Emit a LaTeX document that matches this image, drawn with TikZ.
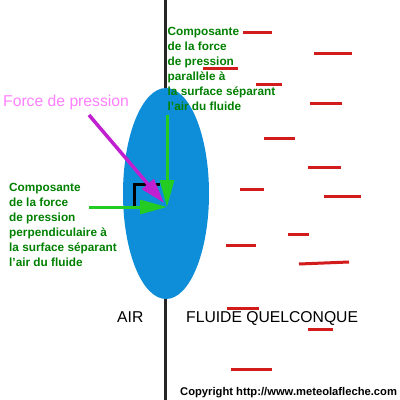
\documentclass[tikz,border=0pt]{standalone}
\usepackage{fontspec}
\setmainfont{Liberation Sans}
\usetikzlibrary{positioning, arrows.meta, shapes.geometric}
\definecolor{airblue}{HTML}{0E8ED8}
\definecolor{streak}{HTML}{D21C1C}
\definecolor{compgreen}{HTML}{22CC22}
\definecolor{labelgreen}{HTML}{008000}
\definecolor{forcepurple}{HTML}{C020D0}
\definecolor{forcepink}{HTML}{FF80FF}
\tikzset{
    bubble/.style={
        ellipse,
        fill=airblue,
        minimum width=86pt,
        minimum height=211pt,
        inner sep=0pt
    },
    streakline/.style={
        line width=3pt,
        streak
    },
    component/.style={
        line width=3pt,
        compgreen,
        -{Triangle[length=27pt,width=14pt]}
    },
    resultant/.style={
        line width=3.5pt,
        forcepurple,
        -{Triangle[length=25pt,width=15pt]}
    },
    greentext/.style={
        labelgreen,
        font=\bfseries\fontsize{11.8}{15}\selectfont,
        align=left,
        anchor=base west,
        inner sep=0pt
    },
    plaintext/.style={
        font=\fontsize{15.7}{19}\selectfont,
        anchor=base west,
        inner sep=0pt
    }
}

\begin{document}
\begin{tikzpicture}[x=1pt,y=-1pt]

      \useasboundingbox (0,0) rectangle (400,400);
      \fill[white] (0,0) rectangle (400,400);

      % wall between air and fluid
      \coordinate (wtop) at (165,0);
      \coordinate (wbot) at (165,400);
      \draw[line width=3pt,black!85] (wtop)--(wbot);

      \node[bubble] (air) at (166,193.5) {};

      % fluid streaks
      \foreach \xa/\xb/\yy in {243/272/32, 314/352/53, 203/238/68, 256/282/84,
          310/342/103, 264/295/138, 308/341/167, 240/264/189, 324/361/196,
          288/309/234, 226/256/245, 227/259/308, 308/333/329, 231/272/369}
        \draw[streakline] (\xa,\yy)--(\xb,\yy);
      \draw[streakline] (299,264)--(349,262);

      % right angle
      \draw[line width=3pt] (134,206)--(134,184)--(160,184);

      \coordinate (tip) at (167,207);
      \coordinate (ftip) at (164,203);
      \coordinate (vstart) at (167,115);
      \coordinate (hstart) at (89,207);
      \coordinate (fstart) at (89,115);

      \draw[component] (vstart)--(tip);
      \draw[component] (hstart)--(tip);
      \draw[resultant] (fstart)--(ftip);

      \node[plaintext,text=forcepink] (force) at (3,106) {Force de pression};
      \node[greentext] (para) at (167.5,110)
        {Composante\\de la force\\de pression\\parallèle à\\la surface séparant\\l'air du fluide};
      \node[greentext] (perp) at (9,266)
        {Composante\\de la force\\de pression\\perpendiculaire à\\la surface séparant\\l'air du fluide};
      \node[plaintext] (airlabel) at (117,322) {AIR};
      \node[plaintext] (fluid) at (186,322) {FLUIDE QUELCONQUE};
      \node[anchor=base west,inner sep=0pt,font=\bfseries\fontsize{11.2}{13}\selectfont]
        (copy) at (180,395) {Copyright http://www.meteolafleche.com};

    \end{tikzpicture}
\end{document}
